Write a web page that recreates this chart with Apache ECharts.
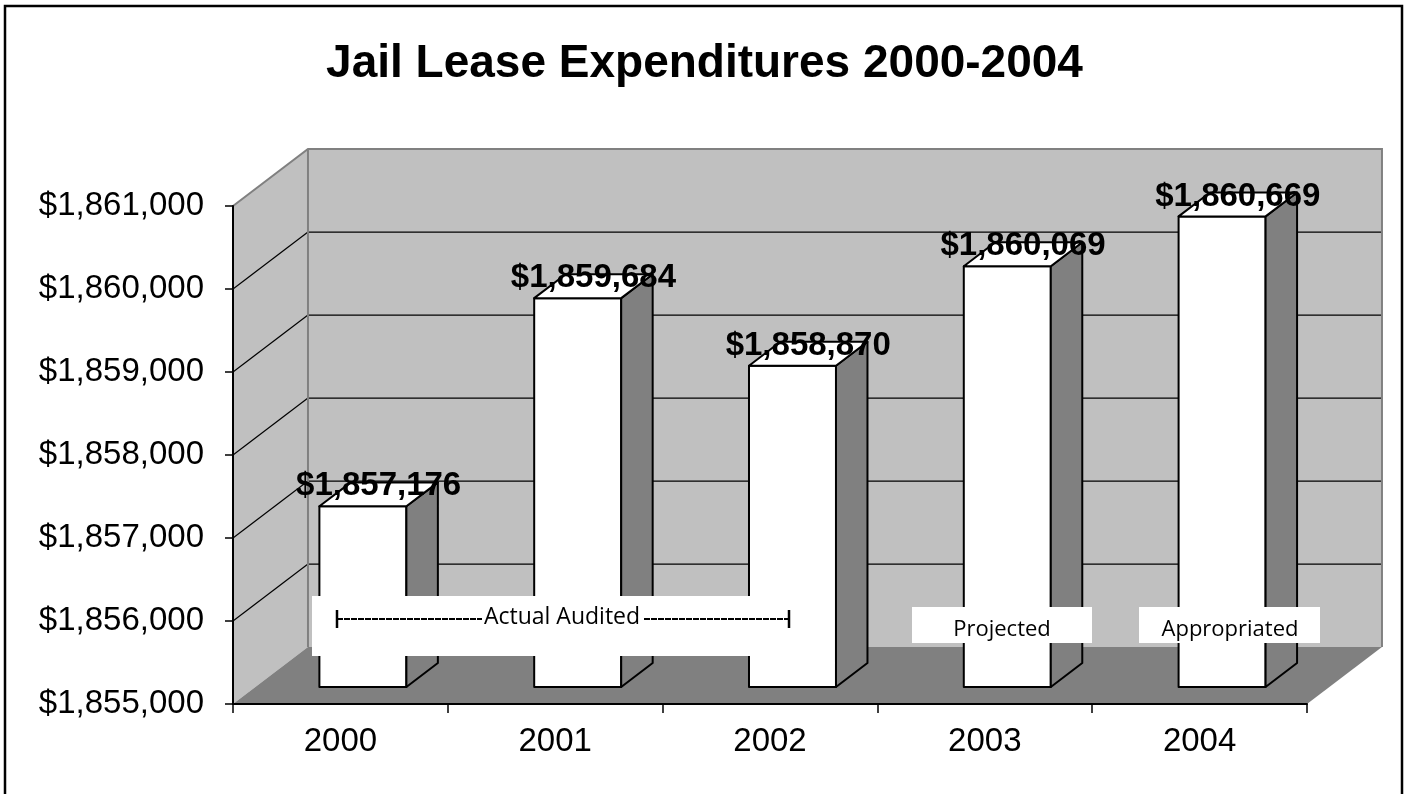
<!DOCTYPE html>
<html>
<head>
<meta charset="utf-8">
<script src="https://cdn.jsdelivr.net/npm/echarts@6/dist/echarts.min.js"></script>
<style>
html,body{margin:0;padding:0;background:#fff;}
#chart{width:1409px;height:794px;}
</style>
</head>
<body>
<div id="chart"></div>
<script>
// ---- data ----
const years = ['2000', '2001', '2002', '2003', '2004'];
const expenditures = [1857176, 1859684, 1858870, 1860069, 1860669];
const yMin = 1855000;
const yMax = 1861000;
const yStep = 1000;
const phaseLabels = ['Actual Audited', 'Projected', 'Appropriated'];
const titleText = 'Jail Lease Expenditures 2000-2004';

// ---- style constants ----
const FONT = '"Liberation Sans", Arial, sans-serif';
const NOTE_FONT = '"Open Sans", "DejaVu Sans", sans-serif';
const DEPTH_X = 0.349;   // wall depth as fraction of band width
const DEPTH_Y = -0.265;
const BAR_W = 0.405;
const F1 = 0.30, F2 = 0.72; // bar depth span
const WALL = '#c0c0c0', FLOOR = '#808080', SIDE = '#808080';

function money(v) { return '$' + Number(v).toLocaleString('en-US'); }

const chart = echarts.init(document.getElementById('chart'), null, {renderer: 'canvas'});

function wallsRender(params, api) {
  const band = api.size([1, 0])[0];
  const dx = band * DEPTH_X, dy = band * DEPTH_Y;
  const p0 = api.coord([0, yMin]);
  const xL = p0[0] - band / 2;
  const xR = api.coord([years.length - 1, yMin])[0] + band / 2;
  const yB = p0[1];
  const yT = api.coord([0, yMax])[1];
  const children = [];
  children.push({type: 'polygon', shape: {points: [[xL, yT], [xL + dx, yT + dy], [xL + dx, yB + dy], [xL, yB]]}, style: {fill: WALL}});
  children.push({type: 'rect', shape: {x: xL + dx, y: yT + dy, width: xR - xL, height: yB - yT}, style: {fill: WALL}});
  children.push({type: 'polygon', shape: {points: [[xL, yB], [xL + dx, yB + dy], [xR + dx, yB + dy], [xR, yB]]}, style: {fill: FLOOR}});
  for (let v = yMin + yStep; v < yMax; v += yStep) {
    const y = api.coord([0, v])[1];
    children.push({type: 'line', shape: {x1: xL + dx, y1: y + dy, x2: xR + dx, y2: y + dy}, style: {stroke: '#000', lineWidth: 1.2}});
    children.push({type: 'line', shape: {x1: xL, y1: y, x2: xL + dx, y2: y + dy}, style: {stroke: '#000', lineWidth: 1.2}});
  }
  // gray wall edges
  children.push({type: 'polyline', shape: {points: [[xL, yT], [xL + dx, yT + dy], [xR + dx, yT + dy], [xR + dx, yB + dy]]}, style: {stroke: '#808080', lineWidth: 2, fill: null}});
  children.push({type: 'line', shape: {x1: xL + dx, y1: yT + dy, x2: xL + dx, y2: yB + dy}, style: {stroke: '#808080', lineWidth: 2}});
  return {type: 'group', children: children};
}

function barsRender(params, api) {
  const i = api.value(0), v = api.value(1);
  const band = api.size([1, 0])[0];
  const dx = band * DEPTH_X, dy = band * DEPTH_Y;
  const base = api.coord([i, yMin]);
  const top = api.coord([i, v])[1];
  const bw = band * BAR_W;
  const x0 = base[0] - bw / 2 + F1 * dx;
  const yTop = top + F1 * dy, yBot = base[1] + F1 * dy;
  const ddx = (F2 - F1) * dx, ddy = (F2 - F1) * dy;
  const st = {stroke: '#000', lineWidth: 2, lineJoin: 'round'};
  return {type: 'group', children: [
    {type: 'rect', shape: {x: x0, y: yTop, width: bw, height: yBot - yTop}, style: Object.assign({fill: '#fff'}, st)},
    {type: 'polygon', shape: {points: [[x0 + bw, yTop], [x0 + bw + ddx, yTop + ddy], [x0 + bw + ddx, yBot + ddy], [x0 + bw, yBot]]}, style: Object.assign({fill: SIDE}, st)},
    {type: 'polygon', shape: {points: [[x0, yTop], [x0 + bw, yTop], [x0 + bw + ddx, yTop + ddy], [x0 + ddx, yTop + ddy]]}, style: Object.assign({fill: '#fff'}, st)},
    {type: 'text', z2: 10, style: {x: x0 + bw / 2 + ddx / 2, y: yTop + ddy / 2 - 8, text: money(v), align: 'center', verticalAlign: 'middle', font: 'bold 33px ' + FONT, fill: '#000'}}
  ]};
}

const option = {
  animation: false,
  backgroundColor: '#fff',
  title: {text: titleText, left: 'center', top: 36, textStyle: {fontSize: 46, fontWeight: 'bold', fontFamily: FONT, color: '#000'}},
  grid: {left: 233, right: 102, top: 206, bottom: 90, containLabel: false},
  xAxis: {
    type: 'category', data: years, boundaryGap: true,
    axisLine: {lineStyle: {color: '#000', width: 2}},
    axisTick: {show: true, length: 9, lineStyle: {color: '#000', width: 1.5}},
    axisLabel: {fontSize: 33, fontFamily: FONT, color: '#000', margin: 21},
    splitLine: {show: false}, z: 5
  },
  yAxis: {
    type: 'value', min: yMin, max: yMax, interval: yStep,
    axisLine: {show: true, lineStyle: {color: '#000', width: 2}},
    axisTick: {show: true, length: 8, lineStyle: {color: '#000', width: 1.5}},
    axisLabel: {fontSize: 33, fontFamily: FONT, color: '#000', margin: 29, formatter: money},
    splitLine: {show: false}, z: 5
  },
  series: [
    {type: 'custom', data: [[0, yMin]], renderItem: wallsRender, z: 1, silent: true, clip: false},
    {type: 'custom', data: expenditures.map((v, i) => [i, v]), renderItem: barsRender, z: 3, clip: false,
     encode: {x: 0, y: 1}}
  ],
  graphic: [
    {type: 'rect', z: 100, shape: {x: 5, y: 6, width: 1397, height: 800}, style: {fill: null, stroke: '#000', lineWidth: 2.5}},
    // Actual Audited bracket
    {type: 'rect', z: 100, shape: {x: 312, y: 596, width: 500, height: 60}, style: {fill: '#fff'}},
    {type: 'text', z: 101, style: {x: 562, y: 617, text: phaseLabels[0], align: 'center', verticalAlign: 'middle', font: '23px ' + NOTE_FONT, fill: '#000'}},
    {type: 'line', z: 101, shape: {x1: 337, y1: 619, x2: 482, y2: 619}, style: {stroke: '#000', lineWidth: 1.8, lineDash: [6, 1]}},
    {type: 'line', z: 101, shape: {x1: 644, y1: 619, x2: 789, y2: 619}, style: {stroke: '#000', lineWidth: 1.8, lineDash: [6, 1]}},
    {type: 'line', z: 101, shape: {x1: 337, y1: 610, x2: 337, y2: 628}, style: {stroke: '#000', lineWidth: 2.5}},
    {type: 'line', z: 101, shape: {x1: 789, y1: 610, x2: 789, y2: 628}, style: {stroke: '#000', lineWidth: 2.5}},
    // Projected
    {type: 'rect', z: 100, shape: {x: 912, y: 607, width: 180, height: 36}, style: {fill: '#fff'}},
    {type: 'text', z: 101, style: {x: 1002, y: 630, text: phaseLabels[1], align: 'center', verticalAlign: 'middle', font: '22px ' + NOTE_FONT, fill: '#000'}},
    // Appropriated
    {type: 'rect', z: 100, shape: {x: 1139, y: 607, width: 181, height: 36}, style: {fill: '#fff'}},
    {type: 'text', z: 101, style: {x: 1230, y: 630, text: phaseLabels[2], align: 'center', verticalAlign: 'middle', font: '22px ' + NOTE_FONT, fill: '#000'}}
  ]
};
chart.setOption(option);
</script>
</body>
</html>
